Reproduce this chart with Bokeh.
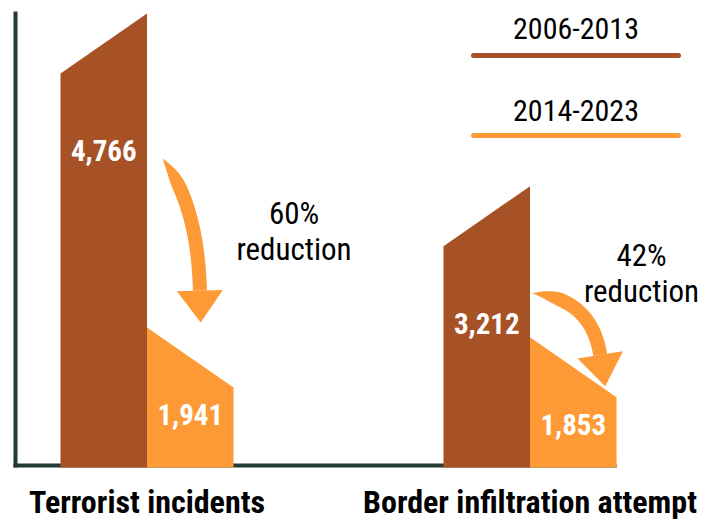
import numpy as np
from bokeh.plotting import figure
from bokeh.models import Range1d
from bokeh.core.properties import value
from bokeh.embed import file_html
from bokeh.resources import INLINE

# ---------------- data ----------------
categories = ["Terrorist incidents", "Border infiltration attempt"]
periods = ["2006-2013", "2014-2023"]
values_2006_2013 = [4766, 3212]
values_2014_2023 = [1941, 1853]
reduction_pct = [60, 42]

# ---------------- style ----------------
BROWN = "#A65226"
ORANGE = "#FE9A35"
AXIS = "#233B32"
FONT = "'Roboto Condensed', 'DejaVu Sans Condensed', sans-serif"

W, H = 716, 521
MARGIN = 0
BASE = 950          # value at the baseline (truncated axis)
UPP = 9.0           # value units per pixel
BASE_PX = 467       # bar bottom, figure px from top
GROUP_PX = 383      # px between group centres
G0_PX = 146.5       # first group centre, figure px
BAR_PX = 86.5
SLANT_PX = 60
TXT_DY = 10         # rendering correction for text baseline (px)


def dx(px):
    return px / GROUP_PX


def dy(px):
    return px * UPP


def sx_to_x(sx):
    return (sx - MARGIN - G0_PX) / GROUP_PX


def sy_to_y(sy):
    return BASE + (MARGIN + BASE_PX - sy) * UPP


def tsy_to_y(sy):
    return sy_to_y(sy - TXT_DY)


def x_to_sx(x):
    return MARGIN + G0_PX + x * GROUP_PX


def y_to_sy(y):
    return MARGIN + BASE_PX - (y - BASE) / UPP


p = figure(width=W, height=H, output_backend="svg", toolbar_location=None,
           x_range=Range1d(-G0_PX / GROUP_PX, (W - G0_PX) / GROUP_PX),
           y_range=Range1d(BASE - (H - BASE_PX) * UPP, BASE + BASE_PX * UPP),
           x_axis_location=None, y_axis_location=None, min_border=0)
p.outline_line_color = None
p.xgrid.visible = False
p.ygrid.visible = False
p.background_fill_color = "white"

xc = np.arange(len(categories), dtype=float)
bw = dx(BAR_PX)
S = dy(SLANT_PX)
va = np.array(values_2006_2013, dtype=float)
vb = np.array(values_2014_2023, dtype=float)

# axis lines
p.segment(x0=[sx_to_x(15)], y0=[sy_to_y(467)], x1=[sx_to_x(15)], y1=[sy_to_y(11)],
          line_width=4, line_color=AXIS)
p.segment(x0=[sx_to_x(13)], y0=[sy_to_y(465)], x1=[xc[-1] + bw], y1=[sy_to_y(465)],
          line_width=4, line_color=AXIS)

# bars (slanted tops)
bottom = BASE
brown_xs = [[c - bw, c - bw, c, c] for c in xc]
brown_ys = [[bottom, v - S / 2, v + S / 2, bottom] for v in va]
orange_xs = [[c, c, c + bw, c + bw] for c in xc]
orange_ys = [[bottom, v + S / 2, v - S / 2, bottom] for v in vb]
p.patches(brown_xs, brown_ys, fill_color=BROWN, line_color=None)
p.patches(orange_xs, orange_ys, fill_color=ORANGE, line_color=None)

# value labels
BROWN_LABEL_OFF = 117
ORANGE_LABEL_OFF = 67
p.text(x=xc - bw / 2, y=va - dy(BROWN_LABEL_OFF - TXT_DY), text=[f"{v:,}" for v in values_2006_2013],
       text_font=value(FONT), text_font_size="29px", text_font_style="bold",
       text_color="white", text_align="center", text_baseline="alphabetic")
p.text(x=xc + bw / 2, y=vb - dy(ORANGE_LABEL_OFF - TXT_DY), text=[f"{v:,}" for v in values_2014_2023],
       text_font=value(FONT), text_font_size="29px", text_font_style="bold",
       text_color="white", text_align="center", text_baseline="alphabetic")

# category labels
p.text(x=xc, y=[tsy_to_y(511)] * len(xc), text=categories,
       text_font=value(FONT), text_font_size="32px", text_font_style="bold",
       text_color="black", text_align="center", text_baseline="alphabetic")

# arrows (computed in screen px from bar geometry)
ARROW_START = [(15.5, -2), (2.5, -40)]     # px right of brown bar, px from brown label baseline
ARROW_TIP = [(0.62, 42), (0.87, 3)]        # fraction across orange bar, gap above its top
ARROW_BEND = [(-2, 0.35), (-9, 0.09)]      # control point x offset, y fraction
HL, HH, SW = 32, 23, 7

for i, c in enumerate(xc):
    brown_right_sx = x_to_sx(c)
    label_sy = y_to_sy(va[i] - dy(BROWN_LABEL_OFF))
    P0 = np.array([brown_right_sx + ARROW_START[i][0], label_sy + ARROW_START[i][1]])
    f, gap = ARROW_TIP[i]
    tx_sx = x_to_sx(c) + f * BAR_PX
    top_sy = y_to_sy(vb[i] + S / 2) + f * SLANT_PX
    tip = np.array([tx_sx, top_sy - gap])
    P2 = tip - np.array([0, HL])
    for _ in range(8):
        P1 = np.array([P2[0] + ARROW_BEND[i][0], P0[1] + ARROW_BEND[i][1] * (P2[1] - P0[1])])
        d = (P2 - P1) / np.linalg.norm(P2 - P1)
        P2 = tip - d * HL
    t = np.linspace(0, 1, 50)
    B = ((1 - t) ** 2)[:, None] * P0 + (2 * (1 - t) * t)[:, None] * P1 + (t ** 2)[:, None] * P2
    D = (2 * (1 - t))[:, None] * (P1 - P0) + (2 * t)[:, None] * (P2 - P1)
    D = D / np.linalg.norm(D, axis=1)[:, None]
    N = np.stack([-D[:, 1], D[:, 0]], axis=1)
    w = SW * np.sin(np.minimum(t / 0.3, 1) * np.pi / 2)
    L = B + N * w[:, None]
    R = B - N * w[:, None]
    shaft = np.vstack([L, R[::-1]])
    n_end = np.array([-d[1], d[0]])
    head = np.array([P2 + n_end * HH, tip, P2 - n_end * HH])
    for poly in (shaft, head):
        p.patch([sx_to_x(v) for v in poly[:, 0]], [sy_to_y(v) for v in poly[:, 1]],
                fill_color=ORANGE, line_color=None)

# reduction annotations
RED_POS = [(293.5, 223), (641, 265)]   # screen centre x, baseline of first line
RED_STEP = 36
for i, (sx, sy) in enumerate(RED_POS):
    p.text(x=[sx_to_x(sx), sx_to_x(sx)], y=[tsy_to_y(sy), tsy_to_y(sy + RED_STEP)],
           text=[f"{reduction_pct[i]}%", "reduction"],
           text_font=value(FONT), text_font_size="31px",
           text_color="black", text_align="center", text_baseline="alphabetic")

# legend (text above a line)
LEG_X0, LEG_X1 = 473, 678
LEG_TEXT_SY = [38, 120]
LEG_LINE_SY = [55, 135]
for i, (name, col) in enumerate(zip(periods, [BROWN, ORANGE])):
    p.segment(x0=[sx_to_x(LEG_X0)], y0=[sy_to_y(LEG_LINE_SY[i])],
              x1=[sx_to_x(LEG_X1)], y1=[sy_to_y(LEG_LINE_SY[i])],
              line_width=5, line_color=col, line_cap="round")
    p.text(x=[sx_to_x((LEG_X0 + LEG_X1) / 2)], y=[tsy_to_y(LEG_TEXT_SY[i])], text=[name],
           text_font=value(FONT), text_font_size="30px",
           text_color="black", text_align="center", text_baseline="alphabetic")

open("out.html", "w").write(file_html(p, INLINE))
